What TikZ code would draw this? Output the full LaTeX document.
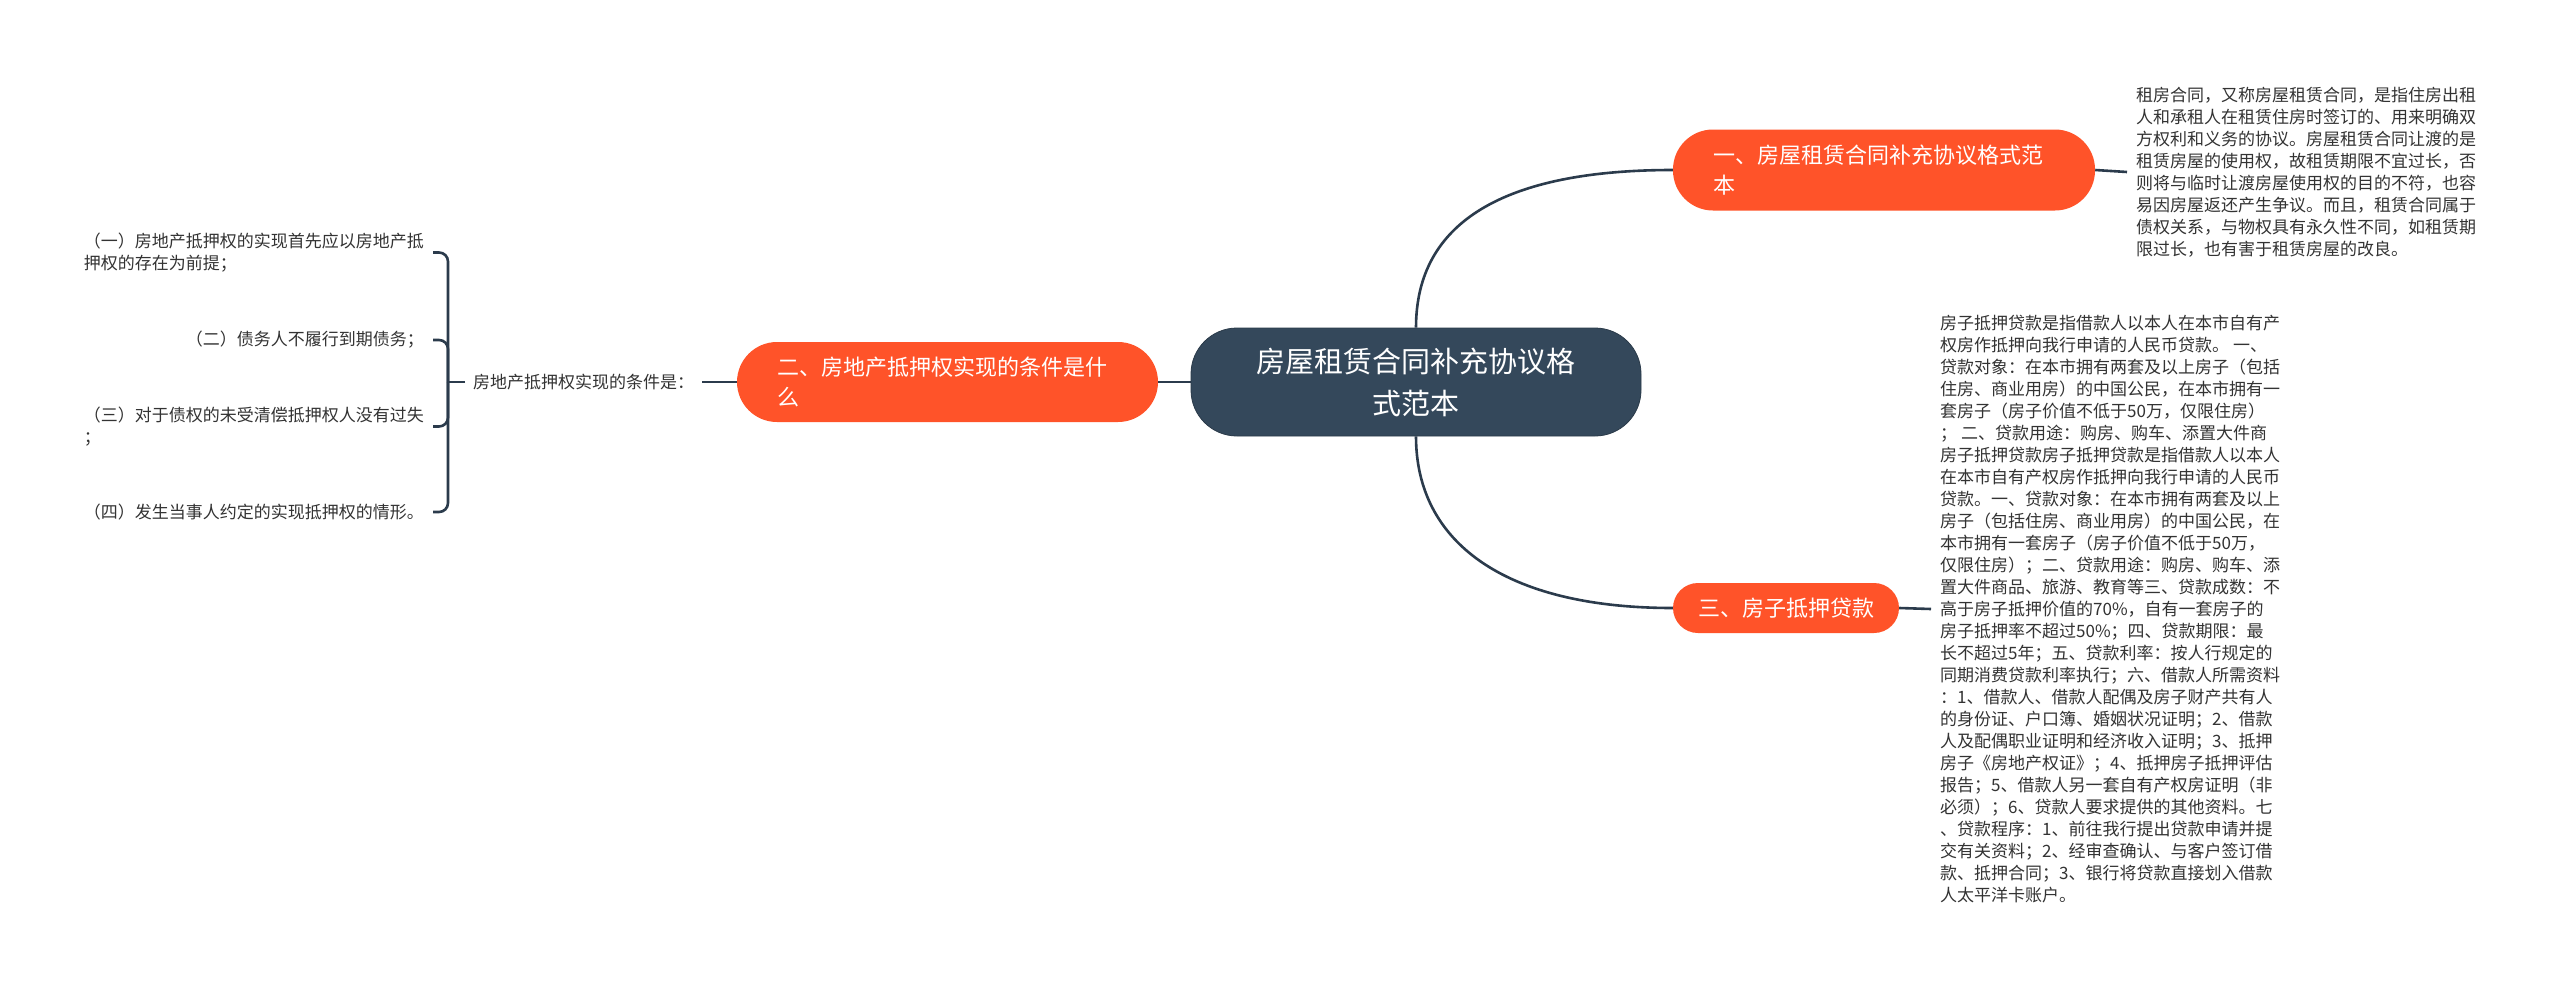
\documentclass[tikz,border=0pt]{standalone}
\usepackage{fontspec}
\setmainfont{Noto Sans CJK SC}
\definecolor{orangefill}{HTML}{FF5329}
\definecolor{darkfill}{HTML}{34485B}
\definecolor{linecol}{HTML}{2B3B4C}
\definecolor{txtgray}{HTML}{333333}
\begin{document}
\begin{tikzpicture}[x=1pt,y=-1pt,
  centerbox/.style={fill=darkfill,draw=darkfill!80!black,line width=0.8pt,text=white,rounded corners=46pt,
    minimum width=450pt,minimum height=108pt,align=center,inner sep=0pt,
    font=\fontsize{29}{42}\selectfont},
  branchbox/.style={fill=orangefill,text=white,inner ysep=0pt,
    font=\fontsize{22}{30}\selectfont},
  plaintext/.style={text=txtgray,align=left,inner xsep=9pt,inner ysep=2pt,
    font=\fontsize{17}{22}\selectfont},
  conn/.style={draw=linecol,line width=2.6pt},
  bracketline/.style={draw=linecol,line width=2.6pt,rounded corners=9pt}
]
\useasboundingbox (0,0) rectangle (2560,988);
\fill[white] (0,0) rectangle (2560,988);

% center
\node[centerbox] (c) at (1416,382) {房屋租赁合同补充协议格\\式范本};

% branches
\node[branchbox,rounded corners=40pt,minimum height=81pt,text width=342pt,inner xsep=40pt,align=left]
  (b1) at (1884,170) {一、房屋租赁合同补充协议格式范\\本};
\node[branchbox,rounded corners=40pt,minimum height=80pt,text width=341pt,inner xsep=40pt,align=left]
  (b2) at (947.5,382) {二、房地产抵押权实现的条件是什\\么};
\node[branchbox,rounded corners=25pt,minimum height=50pt,minimum width=226pt,align=center,inner xsep=0pt]
  (b3) at (1786,608) {三、房子抵押贷款};

% text blocks
\node[plaintext,anchor=west] (t1) at (2127,172) {租房合同，又称房屋租赁合同，是指住房出租\\
人和承租人在租赁住房时签订的、用来明确双\\
方权利和义务的协议。房屋租赁合同让渡的是\\
租赁房屋的使用权，故租赁期限不宜过长，否\\
则将与临时让渡房屋使用权的目的不符，也容\\
易因房屋返还产生争议。而且，租赁合同属于\\
债权关系，与物权具有永久性不同，如租赁期\\
限过长，也有害于租赁房屋的改良。};

\node[plaintext,anchor=west] (t2) at (1931,609) {房子抵押贷款是指借款人以本人在本市自有产\\
权房作抵押向我行申请的人民币贷款。 一、\\
贷款对象：在本市拥有两套及以上房子（包括\\
住房、商业用房）的中国公民，在本市拥有一\\
套房子（房子价值不低于50万，仅限住房）\\
； 二、贷款用途：购房、购车、添置大件商\\
房子抵押贷款房子抵押贷款是指借款人以本人\\
在本市自有产权房作抵押向我行申请的人民币\\
贷款。一、贷款对象：在本市拥有两套及以上\\
房子（包括住房、商业用房）的中国公民，在\\
本市拥有一套房子（房子价值不低于50万，\\
仅限住房）；二、贷款用途：购房、购车、添\\
置大件商品、旅游、教育等三、贷款成数：不\\
高于房子抵押价值的70\%，自有一套房子的\\
房子抵押率不超过50\%；四、贷款期限：最\\
长不超过5年；五、贷款利率：按人行规定的\\
同期消费贷款利率执行；六、借款人所需资料\\
：1、借款人、借款人配偶及房子财产共有人\\
的身份证、户口簿、婚姻状况证明；2、借款\\
人及配偶职业证明和经济收入证明；3、抵押\\
房子《房地产权证》；4、抵押房子抵押评估\\
报告；5、借款人另一套自有产权房证明（非\\
必须）；6、贷款人要求提供的其他资料。七\\
、贷款程序：1、前往我行提出贷款申请并提\\
交有关资料；2、经审查确认、与客户签订借\\
款、抵押合同；3、银行将贷款直接划入借款\\
人太平洋卡账户。};

% left side
\node[plaintext,anchor=west,inner xsep=8pt] (lab) at (465,382) {房地产抵押权实现的条件是：};
\node[plaintext,anchor=east] (i1) at (433,252.5) {（一）房地产抵押权的实现首先应以房地产抵\\押权的存在为前提；};
\node[plaintext,anchor=east] (i2) at (433,340) {（二）债务人不履行到期债务；};
\node[plaintext,anchor=east] (i3) at (433,426.5) {（三）对于债权的未受清偿抵押权人没有过失\\；};
\node[plaintext,anchor=east] (i4) at (433,512) {（四）发生当事人约定的实现抵押权的情形。};
\coordinate (br) at (448,382);

% connectors
\draw[conn] (c.north) .. controls (1416,222) and (1504,170) .. (b1.west);
\draw[conn] (c.south) .. controls (1416,542) and (1504,608) .. (b3.west);
\draw[conn] (c.west) -- (b2.east);
\draw[conn] (b1.east) -- (t1.west);
\draw[conn] (b3.east) -- (t2.west);
\draw[conn] (b2.west) -- (lab.east);
\draw[conn] (lab.west) -- (br);
\draw[bracketline] (br) |- (i1.east);
\draw[bracketline] (br) |- (i2.east);
\draw[bracketline] (br) |- (i3.east);
\draw[bracketline] (br) |- (i4.east);
\end{tikzpicture}
\end{document}
